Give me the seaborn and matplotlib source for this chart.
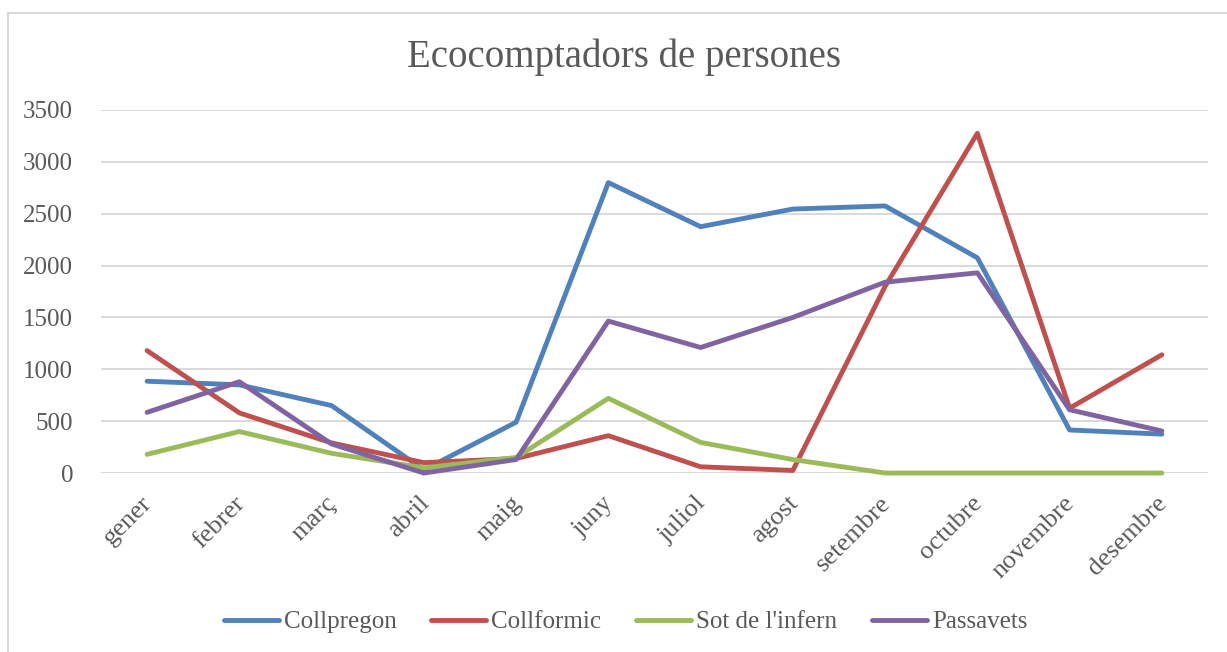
import pandas as pd
import numpy as np
import matplotlib
matplotlib.use("Agg")
import matplotlib.pyplot as plt
import matplotlib.transforms as mtrans
import seaborn as sns
from matplotlib.patches import Rectangle

# ---- data ----
mesos = ["gener", "febrer", "març", "abril", "maig", "juny", "juliol",
         "agost", "setembre", "octubre", "novembre", "desembre"]
collpregon = [885, 850, 650, 30, 490, 2800, 2375, 2545, 2575, 2075, 415, 375]
collformic = [1180, 580, 290, 100, 140, 360, 60, 25, 1800, 3275, 625, 1140]
sot_infern = [180, 400, 190, 50, 150, 720, 295, 130, 0, 0, 0, 0]
passavets = [585, 880, 280, 0, 130, 1465, 1210, 1500, 1840, 1930, 610, 405]

series_names = ["Collpregon", "Collformic", "Sot de l'infern", "Passavets"]
colors = ["#4F81BD", "#C0504D", "#9BBB59", "#8064A2"]

df = pd.DataFrame({"mes": mesos,
                   "Collpregon": collpregon,
                   "Collformic": collformic,
                   "Sot de l'infern": sot_infern,
                   "Passavets": passavets})
long_df = df.melt(id_vars="mes", var_name="lloc", value_name="persones")

# ---- style ----
sns.set_style("white")
plt.rcParams["font.family"] = ["Liberation Serif", "DejaVu Serif"]
text_col = "#595959"

fig = plt.figure(figsize=(12.27, 6.52), dpi=100)
ax = fig.add_axes([0.0823, 0.2745, 0.9022, 0.5568])

sns.lineplot(data=long_df, x="mes", y="persones", hue="lloc",
             hue_order=series_names, palette=colors, sort=False,
             linewidth=3.5, ax=ax)
for ln in ax.get_lines():
    ln.set_solid_capstyle("round")
    ln.set_solid_joinstyle("round")
    ln.set_clip_on(False)

ax.set_xlim(-0.5, len(mesos) - 0.5)
ax.set_ylim(0, 3500)
ax.set_yticks(np.arange(0, 3501, 500))
ax.yaxis.grid(True, color="#d9d9d9", linewidth=1.4)
ax.set_axisbelow(True)
for s in ax.spines.values():
    s.set_visible(False)
ax.tick_params(axis="both", length=0, colors=text_col)
ax.tick_params(axis="y", labelsize=18, pad=20)
ax.tick_params(axis="x", labelsize=19, pad=16)
shift = mtrans.ScaledTranslation(-6 / 100, 3 / 100, fig.dpi_scale_trans)
for lab in ax.get_xticklabels():
    lab.set_rotation(45)
    lab.set_ha("right")
    lab.set_rotation_mode("anchor")
    lab.set_transform(lab.get_transform() + shift)
ax.set_xlabel("")
ax.set_ylabel("")

# legend below the plot
handles, labels = ax.get_legend_handles_labels()
ax.legend_.remove()
fig.legend(handles, labels, loc="center", bbox_to_anchor=(0.51, 0.046),
           ncol=4, frameon=False, fontsize=18, handlelength=2.2,
           handletextpad=0.2, columnspacing=1.4, labelcolor=text_col)

fig.text(0.5086, 0.9126, "Ecocomptadors de persones", ha="center", va="center",
         fontsize=28, color=text_col)

# chart-area border
fig.patches.append(Rectangle((8 / 1227, -0.05), 1.1, 1.05 - 13 / 652,
                             transform=fig.transFigure, fill=False,
                             edgecolor="#d9d9d9", linewidth=1.5))

fig.savefig("out.png", dpi=100)
